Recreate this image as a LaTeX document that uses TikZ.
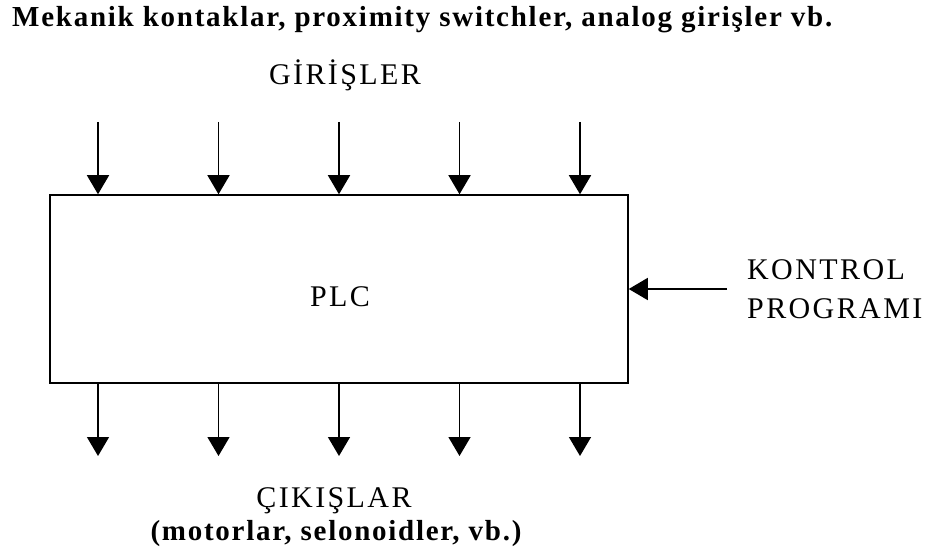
\documentclass[tikz,border=0pt]{standalone}
\usepackage{fontspec}
\setmainfont{Liberation Serif}
\newfontfamily\plcfont[LetterSpace=8]{Liberation Serif}
\newfontfamily\headfont[LetterSpace=6]{Liberation Serif}
\usetikzlibrary{arrows.meta}
\tikzset{
    io_arrow/.style={-{Triangle[width=22pt,length=19pt]}, line width=1.5pt},
    plc_box/.style={draw, line width=1.5pt, minimum width=578pt, minimum height=188pt, inner sep=0pt},
    caption_text/.style={font=\fontsize{30}{39}\selectfont\plcfont, inner sep=0pt},
    title_text/.style={font=\fontsize{29}{33}\selectfont\headfont\bfseries, inner sep=0pt}
}

\begin{document}
\begin{tikzpicture}[x=1pt, y=-1pt]
\useasboundingbox (0,0) rectangle (936,553);

\node[title_text, anchor=base west] (title) at (12,27)
    {Mekanik kontaklar, proximity switchler, analog girişler vb.};
\node[caption_text, anchor=base] (inputs) at (345,85) {GİRİŞLER};

\node[plc_box] (plc) at (339,289) {};
\node[caption_text, anchor=base] (plc_text) at (340,306) {PLC};

\node[caption_text, anchor=west, align=left] (program) at (747,289) {KONTROL\\PROGRAMI};

\node[caption_text, anchor=base] (outputs) at (334,507) {ÇIKIŞLAR};
\node[title_text, anchor=base] (examples) at (336,540)
    {(motorlar, selonoidler, vb.)};

\foreach \i/\x in {1/98, 2/218.5, 3/339, 4/459.5, 5/580} {
    \coordinate (in\i) at (\x,122);
    \coordinate (out\i) at (\x,456);
    \draw[io_arrow] (in\i) -- (in\i |- plc.north);
    \draw[io_arrow] (out\i |- plc.south) -- (out\i);
}

\coordinate (ctrl) at (727,289);
\draw[io_arrow] (ctrl) -- (plc.east);

\end{tikzpicture}
\end{document}
